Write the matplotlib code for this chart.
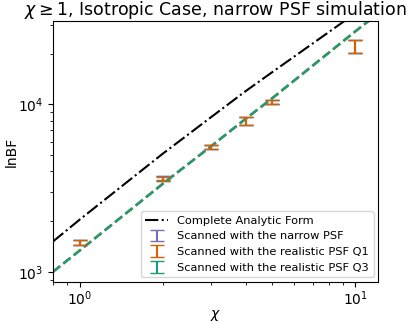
import matplotlib
matplotlib.use("Agg")
import matplotlib.pyplot as plt
import numpy as np

# scanned points
chi = [1, 2, 3, 4, 5, 10]
lnbf_narrow = [1500, 3620, 5590, 7950, 10350, 22300]
err_narrow = [60, 110, 160, 420, 320, 1900]
lnbf_q1 = [1490, 3610, 5580, 7940, 10360, 22300]
err_q1 = [50, 100, 150, 420, 300, 1900]
lnbf_q3 = [1495, 3615, 5585, 7945, 10355, 22300]
err_q3 = [50, 100, 150, 420, 300, 1900]

# analytic curve and fitted lines
chi_line = [0.8, 1, 2, 3, 4, 5, 10, 12]
lnbf_analytic = [1517, 2050, 5070, 8400, 12000, 15600, 35000, 43000]
lnbf_fit = [1000, 1340, 3350, 5630, 8200, 10900, 27300, 34500]

c_narrow = "#7570b3"
c_q1 = "#d95f02"
c_q3 = "#1b9e77"

fig = plt.figure(figsize=(4.07, 3.23), dpi=100)
ax = fig.add_axes([0.130, 0.127, 0.799, 0.808])

ax.plot(chi_line, lnbf_analytic, "k-.", lw=1.5, label="Complete Analytic Form")
ax.plot(chi_line, lnbf_fit, "--", color=c_q1, lw=1.8)
ax.plot(chi_line, lnbf_fit, "--", color=c_q3, lw=1.8)

ax.errorbar(chi, lnbf_q3, yerr=err_q3, fmt="none", ecolor=c_q3, capsize=5,
            label="Scanned with the realistic PSF Q3")
ax.errorbar(chi, lnbf_narrow, yerr=err_narrow, fmt="none", ecolor=c_narrow,
            capsize=5, label="Scanned with the narrow PSF")
ax.errorbar(chi, lnbf_q1, yerr=err_q1, fmt="none", ecolor=c_q1, capsize=5,
            label="Scanned with the realistic PSF Q1")

ax.set_xscale("log")
ax.set_yscale("log")
ax.set_xlim(0.8, 12.1)
ax.set_ylim(870, 31500)
ax.set_xlabel(r"$\chi$", fontsize=10, labelpad=0)
ax.set_ylabel("lnBF", fontsize=10, labelpad=-1)
ax.tick_params(labelsize=10)
ax.tick_params(axis="x", pad=2)
ax.set_title(r"$\chi \geq 1$, Isotropic Case, narrow PSF simulation",
             fontsize=12.5, pad=4)

handles, labels = ax.get_legend_handles_labels()
order = [labels.index(l) for l in ["Complete Analytic Form",
                                   "Scanned with the narrow PSF",
                                   "Scanned with the realistic PSF Q1",
                                   "Scanned with the realistic PSF Q3"]]
ax.legend([handles[i] for i in order], [labels[i] for i in order],
          loc="lower right", fontsize=8.2, borderaxespad=0.4)

fig.savefig("out.png", dpi=100)
